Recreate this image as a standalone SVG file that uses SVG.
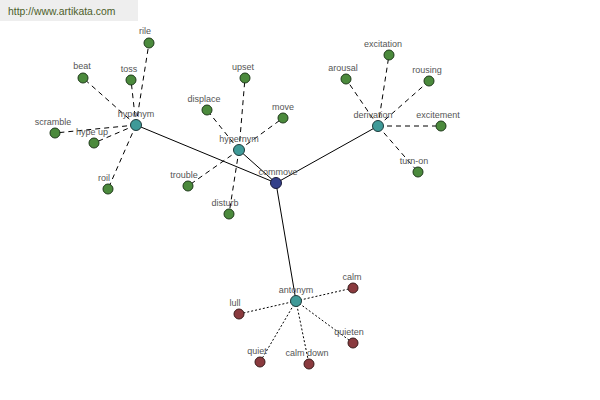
<svg xmlns="http://www.w3.org/2000/svg" width="600" height="400" viewBox="0 0 600 400">
<style>
.lbl{font-family:"Liberation Sans",Arial,sans-serif;font-size:9px;fill:#555;text-anchor:middle}
.g{fill:#4b8a3c;stroke:#1e3a1a;stroke-width:1}
.t{fill:#3f9a98;stroke:#1e3a3a;stroke-width:1}
.r{fill:#8a3a3e;stroke:#3a1a1a;stroke-width:1}
.b{fill:#34408a;stroke:#1a1a3a;stroke-width:1}
.solid{stroke:#000;stroke-width:1;fill:none}
.dash{stroke:#000;stroke-width:1;stroke-dasharray:5,4;fill:none}
.dot{stroke:#000;stroke-width:1;stroke-dasharray:2,2;fill:none}
</style>
<rect x="0" y="0" width="600" height="400" fill="#fff"/>
<rect x="0" y="0" width="138" height="21" fill="#eeeeee"/>
<text x="8" y="15" style="font-family:'Liberation Sans',Arial,sans-serif;font-size:10.4px;fill:#4d5e2a">http://www.artikata.com</text>
<g id="connectors">
<line class="solid" x1="276" y1="183" x2="136" y2="125"/>
<line class="solid" x1="276" y1="183" x2="239" y2="150"/>
<line class="solid" x1="276" y1="183" x2="378" y2="126"/>
<line class="solid" x1="276" y1="183" x2="296" y2="301"/>
<line class="dash" x1="136" y1="125" x2="149" y2="43"/>
<line class="dash" x1="136" y1="125" x2="83" y2="78"/>
<line class="dash" x1="136" y1="125" x2="131" y2="80"/>
<line class="dash" x1="136" y1="125" x2="55" y2="133"/>
<line class="dash" x1="136" y1="125" x2="94" y2="143"/>
<line class="dash" x1="136" y1="125" x2="108" y2="189"/>
<line class="dash" x1="239" y1="150" x2="245" y2="78"/>
<line class="dash" x1="239" y1="150" x2="207" y2="110"/>
<line class="dash" x1="239" y1="150" x2="283" y2="118"/>
<line class="dash" x1="239" y1="150" x2="188" y2="186"/>
<line class="dash" x1="239" y1="150" x2="229" y2="214"/>
<line class="dash" x1="378" y1="126" x2="389" y2="55"/>
<line class="dash" x1="378" y1="126" x2="346" y2="79"/>
<line class="dash" x1="378" y1="126" x2="429" y2="81"/>
<line class="dash" x1="378" y1="126" x2="441" y2="126"/>
<line class="dash" x1="378" y1="126" x2="418" y2="172"/>
<line class="dot" x1="296" y1="301" x2="353" y2="288"/>
<line class="dot" x1="296" y1="301" x2="239" y2="314"/>
<line class="dot" x1="296" y1="301" x2="260" y2="362"/>
<line class="dot" x1="296" y1="301" x2="309" y2="364"/>
<line class="dot" x1="296" y1="301" x2="353" y2="343"/>
</g>
<g id="commove"><circle class="b" cx="276" cy="183" r="5.5"/><text class="lbl" x="278" y="175">commove</text></g>
<g id="hyponym"><circle class="t" cx="136" cy="125" r="5.5"/><text class="lbl" x="136" y="117">hyponym</text></g>
<g id="hypernym"><circle class="t" cx="239" cy="150" r="5.5"/><text class="lbl" x="239" y="142">hypernym</text></g>
<g id="derivation"><circle class="t" cx="378" cy="126" r="5.5"/><text class="lbl" x="373" y="118">derivation</text></g>
<g id="antonym"><circle class="t" cx="296" cy="301" r="5.5"/><text class="lbl" x="296" y="293">antonym</text></g>
<g id="rile"><circle class="g" cx="149" cy="43" r="5"/><text class="lbl" x="145" y="34">rile</text></g>
<g id="beat"><circle class="g" cx="83" cy="78" r="5"/><text class="lbl" x="82" y="69">beat</text></g>
<g id="toss"><circle class="g" cx="131" cy="80" r="5"/><text class="lbl" x="129" y="72">toss</text></g>
<g id="scramble"><circle class="g" cx="55" cy="133" r="5"/><text class="lbl" x="53" y="125">scramble</text></g>
<g id="hype-up"><circle class="g" cx="94" cy="143" r="5"/><text class="lbl" x="92" y="135">hype up</text></g>
<g id="roil"><circle class="g" cx="108" cy="189" r="5"/><text class="lbl" x="104" y="181">roil</text></g>
<g id="upset"><circle class="g" cx="245" cy="78" r="5"/><text class="lbl" x="243" y="70">upset</text></g>
<g id="displace"><circle class="g" cx="207" cy="110" r="5"/><text class="lbl" x="204" y="102">displace</text></g>
<g id="move"><circle class="g" cx="283" cy="118" r="5"/><text class="lbl" x="283" y="110">move</text></g>
<g id="trouble"><circle class="g" cx="188" cy="186" r="5"/><text class="lbl" x="184" y="178">trouble</text></g>
<g id="disturb"><circle class="g" cx="229" cy="214" r="5"/><text class="lbl" x="225" y="206">disturb</text></g>
<g id="excitation"><circle class="g" cx="389" cy="55" r="5"/><text class="lbl" x="383" y="47">excitation</text></g>
<g id="arousal"><circle class="g" cx="346" cy="79" r="5"/><text class="lbl" x="343" y="71">arousal</text></g>
<g id="rousing"><circle class="g" cx="429" cy="81" r="5"/><text class="lbl" x="427" y="73">rousing</text></g>
<g id="excitement"><circle class="g" cx="441" cy="126" r="5"/><text class="lbl" x="438" y="118">excitement</text></g>
<g id="turn-on"><circle class="g" cx="418" cy="172" r="5"/><text class="lbl" x="414" y="164">turn-on</text></g>
<g id="calm"><circle class="r" cx="353" cy="288" r="5"/><text class="lbl" x="352" y="280">calm</text></g>
<g id="lull"><circle class="r" cx="239" cy="314" r="5"/><text class="lbl" x="235" y="306">lull</text></g>
<g id="quiet"><circle class="r" cx="260" cy="362" r="5"/><text class="lbl" x="257" y="354">quiet</text></g>
<g id="calm-down"><circle class="r" cx="309" cy="364" r="5"/><text class="lbl" x="307" y="356">calm down</text></g>
<g id="quieten"><circle class="r" cx="353" cy="343" r="5"/><text class="lbl" x="349" y="335">quieten</text></g>
</svg>
